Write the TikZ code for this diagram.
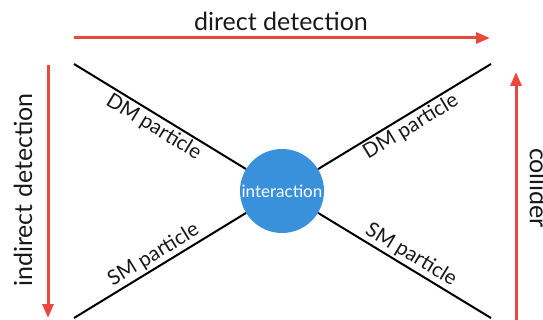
\documentclass[tikz,border=0pt]{standalone}
\usepackage{fontspec}
\setmainfont{Lato}
\usetikzlibrary{arrows.meta}
\definecolor{arrowred}{HTML}{E8493C}
\definecolor{ballblue}{HTML}{3A91DB}

\begin{document}
\begin{tikzpicture}[x=1pt,y=-1pt,line join=round,
                    >={Triangle[length=14pt,width=11pt]}]
\tikzstyle{every node}=[text=black!90,inner sep=2pt]
\tikzstyle{flow}=[draw=arrowred,line width=3pt,->]
\tikzstyle{leg}=[draw=black,line width=2pt]
\tikzstyle{tag}=[font=\fontsize{20.5}{20.5}\selectfont,sloped,pos=0.5]
\tikzstyle{side}=[font=\fontsize{25}{25}\selectfont]
\useasboundingbox (0,0) rectangle (543,320);
\node [circle,fill=ballblue,minimum size=84pt,inner sep=0pt,text=white,
       font=\fontsize{17}{17}\selectfont] (int) at (282,191) {interaction};
\coordinate (tl) at (74,64);
\coordinate (tr) at (491,64);
\coordinate (bl) at (74,318);
\coordinate (br) at (491,318);

\path (tl) edge [leg] node [tag,below] {DM particle} (int)
      (int) edge [leg] node [tag,below] {DM particle} (tr)
      (bl) edge [leg] node [tag,above] {SM particle} (int)
      (int) edge [leg] node [tag,above] {SM particle} (br);

% experiments
\coordinate (dd0) at (74,38);
\coordinate (dd1) at (490,38);
\coordinate (id0) at (48,65);
\coordinate (id1) at (48,318);
\coordinate (co0) at (516,320);
\coordinate (co1) at (516,72);
\draw [flow] (dd0) -- (dd1);
\draw [flow] (id0) -- (id1);
\draw [flow] (co0) -- (co1);
\node [side] (dd) at (281,21) {direct detection};
\node [side,rotate=90] (id) at (23,190) {indirect detection};
\node [side,rotate=-90] (co) at (539,188) {collider};
\end{tikzpicture}
\end{document}
